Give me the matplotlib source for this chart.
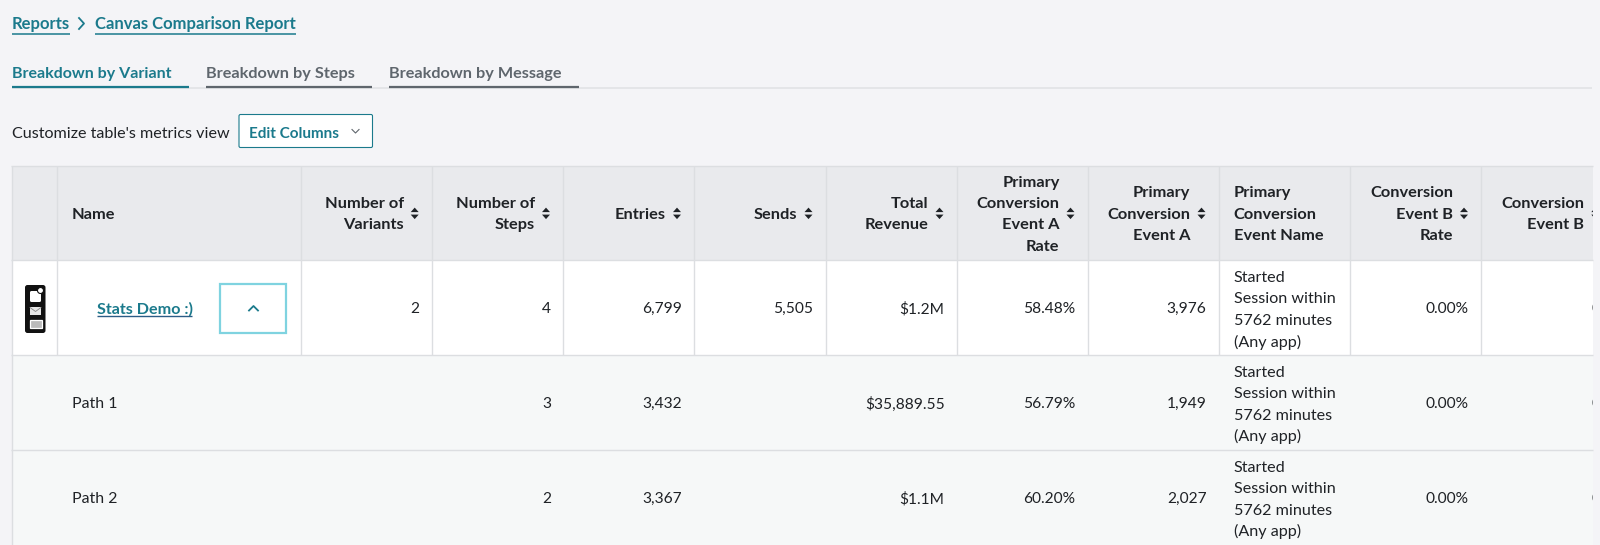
import matplotlib
matplotlib.use('Agg')
import matplotlib.pyplot as plt
from matplotlib.patches import Rectangle, FancyBboxPatch, Circle

plt.rcParams['font.family'] = ['Lato', 'DejaVu Sans']

teal = '#1b7a8c'
grey_tab = '#5f666d'
ink = '#1f2226'
line_col = '#dcdee1'

headers = [
    ['Number of', 'Variants'],
    ['Number of', 'Steps'],
    ['Entries'],
    ['Sends'],
    ['Total', 'Revenue'],
    ['Primary', 'Conversion', 'Event A', 'Rate'],
    ['Primary', 'Conversion', 'Event A'],
    None,
    ['Conversion', 'Event B', 'Rate'],
    ['Conversion', 'Event B'],
]
names = ['Stats Demo :)', 'Path 1', 'Path 2']
variants = ['2', '', '']
steps = ['4', '3', '2']
entries = ['6,799', '3,432', '3,367']
sends = ['5,505', '', '']
revenue = ['$1.2M', '$35,889.55', '$1.1M']
rate_a = ['58.48%', '56.79%', '60.20%']
event_a = ['3,976', '1,949', '2,027']
event_name = ['Started', 'Session within', '5762 minutes', '(Any app)']
rate_b = ['0.00%', '0.00%', '0.00%']
event_b = ['0', '0', '0']

col_edges = [11.5, 57, 300.5, 431.7, 563, 694, 825.5, 956.5, 1087.5, 1218.5, 1349.7, 1481, 1612.3]
row_edges = [166, 260.2, 355, 450, 545]
table_right = 1592.7
line_h = 21.3

fig = plt.figure(figsize=(16, 5.45), dpi=100, facecolor='#f4f4f7')
ax = fig.add_axes([0, 0, 1, 1])
ax.set_xlim(0, 1600)
ax.set_ylim(545, 0)
ax.axis('off')

clip = Rectangle((11.5, 166), table_right - 11.5, 379, transform=ax.transData)


def txt(x, y, s, size=11.4, color=ink, weight='normal', ha='left'):
    t = ax.text(x, y, s, fontsize=size, color=color, fontweight=weight, ha=ha, va='center_baseline')
    return t


def cell_text(x, y, s, **kw):
    t = txt(x, y, s, **kw)
    t.set_clip_path(clip)
    t.set_clip_on(True)
    return t


def hline(x0, x1, y, color, lw=1.0):
    ax.plot([x0, x1], [y, y], color=color, lw=lw, solid_capstyle='butt')


def vline(x, y0, y1, color=line_col, lw=1.0):
    l, = ax.plot([x, x], [y0, y1], color=color, lw=lw, solid_capstyle='butt')
    return l


def sort_arrows(x, y):
    up = ax.fill([x - 4, x + 4, x], [y - 1, y - 1, y - 5.5], color=ink, lw=0)
    down = ax.fill([x - 4, x + 4, x], [y + 1.5, y + 1.5, y + 6], color=ink, lw=0)
    for a in up + down:
        a.set_clip_path(clip)


# breadcrumb
txt(12, 23, 'Reports', size=12.0, color=teal, weight='bold')
hline(12, 69.5, 33.5, teal, 1.1)
ax.plot([79, 84, 79], [18, 23.5, 29], color=teal, lw=1.3)
txt(95, 23, 'Canvas Comparison Report', size=12.0, color=teal, weight='bold')
hline(95, 296, 33.5, teal, 1.1)

# tabs
hline(12, 1592, 87.5, '#e1e2e6', 1.2)
txt(12, 72.5, 'Breakdown by Variant', size=11.5, color=teal, weight='bold')
hline(12, 189, 86.5, teal, 1.6)
txt(206, 72.5, 'Breakdown by Steps', size=11.7, color=grey_tab, weight='bold')
hline(206, 371.5, 86.5, grey_tab, 1.6)
txt(389, 72.5, 'Breakdown by Message', size=11.7, color=grey_tab, weight='bold')
hline(389, 579, 86.5, grey_tab, 1.6)

# edit columns
txt(12, 132, "Customize table's metrics view", size=11.6)
ax.add_patch(FancyBboxPatch((239, 114.5), 133.5, 33, boxstyle='round,pad=0,rounding_size=1.5',
                            fc='white', ec=teal, lw=0.8))
txt(249, 132, 'Edit Columns', size=11.0, color=teal, weight='bold')
ax.plot([352, 355.5, 359], [129.5, 133, 129.5], color=grey_tab, lw=0.8)

# table background
ax.add_patch(Rectangle((11.5, 166), table_right - 11.5, 94.2, fc='#e9eaed', ec='none'))
ax.add_patch(Rectangle((11.5, 260.2), table_right - 11.5, 94.8, fc='white', ec='none'))
ax.add_patch(Rectangle((11.5, 355), table_right - 11.5, 190, fc='#f6f8f8', ec='none'))

for y in row_edges[:4]:
    hline(11, table_right, y, line_col, 1.0)
vline(11.5, 166, 545)
for x in col_edges[1:-1]:
    vline(x, 166, 355)

# header
header_mid = (row_edges[0] + row_edges[1]) / 2
txt(72, header_mid, 'Name', size=11.8, weight='bold')
for i, lines in enumerate(headers):
    if lines is None:
        continue
    right = col_edges[i + 3]
    top = header_mid - (len(lines) - 1) * line_h / 2
    for j, s in enumerate(lines):
        cell_text(right - 28, top + j * line_h, s, size=11.8, weight='bold', ha='right')
    sort_arrows(right - 17, header_mid)
left = col_edges[9] + 15
for j, s in enumerate(['Primary', 'Conversion', 'Event Name']):
    txt(left, header_mid + (j - 1) * line_h, s, size=11.8, weight='bold')

# body
columns = [variants, steps, entries, sends, revenue, rate_a, event_a, None, rate_b, event_b]
for r in range(3):
    mid = (row_edges[r + 1] + row_edges[r + 2]) / 2
    if r == 0:
        txt(97, mid, names[r], size=11.6, color=teal, weight='bold')
        hline(97, 192, 315.5, '#2b5c86', 1.0)
    else:
        txt(72, mid, names[r])
    for i, col in enumerate(columns):
        right = col_edges[i + 3]
        if col is None:
            for j, s in enumerate(event_name):
                txt(col_edges[9] + 15, mid + 1 + (j - 1.5) * line_h, s, size=11.6)
        elif col[r]:
            cell_text(right - 12, mid, col[r], size=11.2, ha='right')

# expand button
ax.add_patch(Rectangle((220, 284), 66, 49, fc='white', ec='#7fd3e0', lw=1.6))
ax.plot([249, 253.5, 258], [310.5, 306, 310.5], color=teal, lw=1.3)

# channel icon
ax.add_patch(FancyBboxPatch((25, 285), 20.5, 48, boxstyle='round,pad=0,rounding_size=2.5', fc='#111111', ec='none'))
ax.add_patch(FancyBboxPatch((30, 291), 11, 11, boxstyle='round,pad=0,rounding_size=1.5', fc='white', ec='none'))
ax.add_patch(Circle((40.5, 290.5), 3, fc='white', ec='#111111', lw=0.8))
ax.add_patch(Rectangle((30, 307), 11, 8, fc='#e6e6e6', ec='none'))
ax.plot([30, 35.5, 41], [307.5, 311.5, 307.5], color='#888888', lw=0.6)
ax.add_patch(Rectangle((29.5, 320), 12, 7.5, fc='#bbbbbb', ec='white', lw=0.9))

fig.savefig('out.png', dpi=100, facecolor=fig.get_facecolor())
